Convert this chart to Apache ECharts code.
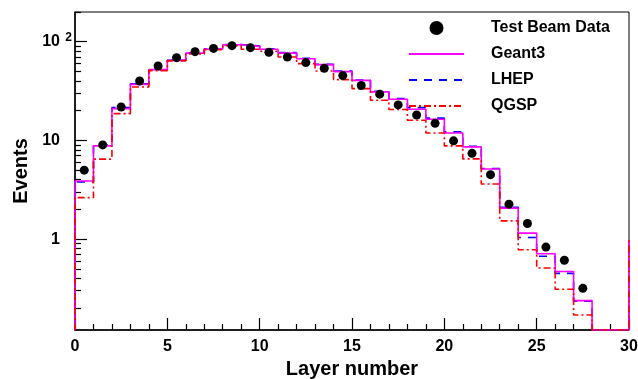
<!DOCTYPE html>
<html>
<head>
<meta charset="utf-8">
<script src="https://cdn.jsdelivr.net/npm/echarts@6/dist/echarts.min.js"></script>
<style>
  html, body { margin: 0; padding: 0; background: #fff; }
  #chart { width: 638px; height: 379px; }
</style>
</head>
<body>
<div id="chart"></div>
<script>
// lower bin edges (layer number), one bin per layer
var binEdges = [0, 1, 2, 3, 4, 5, 6, 7, 8, 9, 10, 11, 12, 13, 14, 15, 16, 17, 18, 19, 20, 21, 22, 23, 24, 25, 26, 27];
var dataPoints = [5.0, 9.0, 21.8, 40, 56.7, 68.9, 79.3, 85.6, 91.2, 87, 78, 70, 61.4, 53.8, 45.4, 36, 29.4, 22.9, 18.1, 14.9, 9.9, 7.4, 4.5, 2.26, 1.44, 0.83, 0.61, 0.317];
var geant3 = [3.88, 8.8, 21.0, 37, 52.1, 64.7, 76.7, 84.2, 93, 89.7, 84, 76.7, 67.3, 58.6, 49.8, 40.6, 31, 26.1, 20.7, 16.4, 11.9, 8.6, 5.13, 2.06, 1.15, 0.71, 0.47, 0.238];
var lhep = [3.8, 9.0, 21.5, 37.5, 52, 65, 77, 85, 93.5, 91, 85, 77.5, 68, 59, 50.5, 41, 31.5, 26.5, 21.5, 16.8, 12.2, 8.7, 5.2, 2.1, 1.04, 0.67, 0.45, 0.235];
var qgsp = [2.63, 6.47, 18.7, 34.8, 51, 64, 75, 83, 91, 84, 80, 70, 60, 50.5, 41.3, 33.5, 25.5, 20.6, 16, 11.9, 8.8, 6.5, 3.62, 1.53, 0.78, 0.51, 0.31, 0.17];
var overflowX = 30, overflowVal = 0.98;   // the spike drawn at the right edge
var yMin = 0.12, yMax = 200;
var yLabels = [1, 10, 100];
var yMinor = [0.2, 0.3, 0.4, 0.5, 0.6, 0.7, 0.8, 0.9, 2, 3, 4, 5, 6, 7, 8, 9, 20, 30, 40, 50, 60, 70, 80, 90, 200];

var font = 'Liberation Sans, Arial, sans-serif';

// histogram outline: up from the floor at x=0, steps across, down after the last bin
function histo(vals) {
  var pts = [[binEdges[0], yMin]];
  for (var i = 0; i < vals.length; i++) pts.push([binEdges[i], vals[i]]);
  var last = binEdges[binEdges.length - 1] + 1;
  pts.push([last, yMin]);
  pts.push([overflowX, yMin]);
  pts.push([overflowX, overflowVal]);
  return pts;
}
function centers(vals) {
  return vals.map(function (v, i) { return [binEdges[i] + 0.5, v]; });
}

var chart = echarts.init(document.getElementById('chart'));

var yBase = {
  type: 'log',
  logBase: 10,
  min: yMin,
  max: yMax,
  position: 'left',
  splitLine: {show: false}
};

var option = {
  animation: false,
  backgroundColor: '#fff',
  grid: {left: 75, right: 9, top: 12, bottom: 49, show: true, borderColor: '#000', borderWidth: 1, outerBoundsMode: 'none'},
  legend: {
    orient: 'vertical',
    left: 408,
    top: 20,
    itemWidth: 55,
    itemHeight: 14,
    itemGap: 10,
    padding: 0,
    data: ['Test Beam Data', 'Geant3', 'LHEP', 'QGSP'],
    textStyle: {fontFamily: font, fontWeight: 'bold', fontSize: 16, color: '#000', padding: [0, 0, 0, 22]}
  },
  xAxis: {
    type: 'value',
    min: 0,
    max: 30,
    interval: 5,
    name: 'Layer number',
    nameLocation: 'middle',
    nameGap: 26,
    nameTextStyle: {fontFamily: font, fontWeight: 'bold', fontSize: 20, color: '#000'},
    axisLine: {lineStyle: {color: '#000', width: 1.5}},
    axisTick: {inside: true, length: 12, lineStyle: {color: '#000', width: 1.2}},
    minorTick: {show: true, splitNumber: 5, length: 6, lineStyle: {color: '#000', width: 1.2}},
    axisLabel: {fontFamily: font, fontWeight: 'bold', fontSize: 16, color: '#000', margin: 9},
    splitLine: {show: false}
  },
  yAxis: [
    Object.assign({}, yBase, {
      name: 'Events',
      nameLocation: 'middle',
      nameGap: 31,
      nameTextStyle: {fontFamily: font, fontWeight: 'bold', fontSize: 20, color: '#000'},
      axisLine: {show: true, lineStyle: {color: '#000', width: 1.5}},
      axisTick: {show: true, inside: true, length: 12, customValues: yLabels, lineStyle: {color: '#000', width: 1.2}},
      axisLabel: {
        customValues: yLabels,
        margin: 3,
        fontFamily: font, fontWeight: 'bold', fontSize: 16, color: '#000',
        formatter: function (v) {
          if (v >= 99) return '{b|10}{s|2}';
          return '{b|' + Math.round(v) + '}{e| }';
        },
        rich: {
          b: {fontFamily: font, fontWeight: 'bold', fontSize: 16, color: '#000', lineHeight: 20},
          e: {fontSize: 12, width: 12},
          s: {fontFamily: font, fontWeight: 'bold', fontSize: 12, color: '#000', width: 12, align: 'right', verticalAlign: 'top', lineHeight: 12, padding: [0, 0, 10, 0]}
        }
      }
    }),
    Object.assign({}, yBase, {
      axisLine: {show: false},
      axisLabel: {show: false},
      axisTick: {show: true, inside: true, length: 6, customValues: yMinor, lineStyle: {color: '#000', width: 1.2}}
    })
  ],
  series: [
    {
      name: 'LHEP', type: 'line', step: 'end', symbol: 'none', clip: true, z: 2,
      lineStyle: {color: '#0000ff', width: 1.6, type: [8, 7]},
      itemStyle: {color: '#0000ff', opacity: 0},
      data: histo(lhep)
    },
    {
      name: 'Geant3', type: 'line', step: 'end', symbol: 'none', clip: true, z: 3,
      lineStyle: {color: '#ff00ff', width: 1.6},
      itemStyle: {color: '#ff00ff', opacity: 0},
      data: histo(geant3)
    },
    {
      name: 'QGSP', type: 'line', step: 'end', symbol: 'none', clip: true, z: 4,
      lineStyle: {color: '#ff0000', width: 1.6, type: [7, 3, 2, 3]},
      itemStyle: {color: '#ff0000', opacity: 0},
      data: histo(qgsp)
    },
    {
      name: 'Test Beam Data', type: 'scatter', symbol: 'circle', symbolSize: 9, z: 5,
      itemStyle: {color: '#000', opacity: 1},
      data: centers(dataPoints)
    }
  ]
};

chart.setOption(option);
</script>
</body>
</html>
